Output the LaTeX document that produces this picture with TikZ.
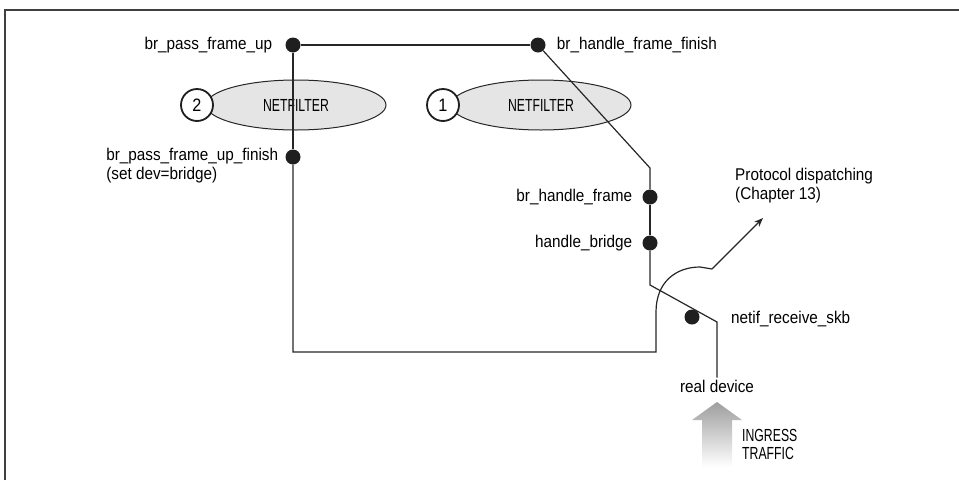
\documentclass[tikz,border=0pt]{standalone}
\usepackage{fontspec}
\setmainfont{Liberation Sans}[FakeStretch=0.9]
\newfontfamily\capsfont{Liberation Sans}[FakeStretch=0.7]
\usetikzlibrary{arrows.meta,positioning,shapes.geometric}

\begin{document}
\begin{tikzpicture}[
  x=1pt,y=-1pt,
  node distance=12pt,
  lbl/.style={inner sep=0pt,font=\fontsize{17pt}{19pt}\selectfont},
  capslbl/.style={inner sep=0pt,align=left,font=\capsfont\fontsize{17.5pt}{18pt}\selectfont},
  joint/.style={circle,fill=black!88,inner sep=0pt,minimum size=15pt},
  filterhook/.style={draw=black!85,line width=1pt,ellipse,fill=black!10,minimum width=180pt,minimum height=50pt,font=\capsfont\fontsize{17.5pt}{19pt}\selectfont},
  num/.style={draw=black!88,circle,line width=1.8pt,fill=white,minimum size=32pt,inner sep=0pt,font=\fontsize{18pt}{19pt}\selectfont},
  wire/.style={draw=black!85,line width=1.2pt}
]
  \useasboundingbox (0,0) rectangle (959,480);
  \draw[line width=1.6pt,black!75] (5,480) -- (5,10) -- (959,10);

  \node[filterhook] (nf2) at (296,105) {NETFILTER\hspace{8pt}};
  \node[num] (n2) at (197,105) {2};
  \node[filterhook] (nf1) at (541,105) {NETFILTER};
  \node[num] (n1) at (443,105) {1};

  \node[joint] (passup) at (293,45) {};
  \node[joint] (handlefinish) at (538,45) {};
  \node[joint] (passfinish) at (293,157) {};
  \node[joint] (handleframe) at (650,197) {};
  \node[joint] (handlebridge) at (650,243) {};
  \node[joint] (netif) at (692,317) {};

  \node[lbl,left=13pt of passup] (passuplbl) {br\_pass\_frame\_up};
  \node[lbl,right=11pt of handlefinish] (handlefinishlbl) {br\_handle\_frame\_finish};
  \node[lbl,align=left,left=7pt of passfinish,yshift=-9pt] (passfinishlbl) {br\_pass\_frame\_up\_finish\\(set dev=bridge)};
  \node[lbl,left=10pt of handleframe] (handleframelbl) {br\_handle\_frame};
  \node[lbl,left=10pt of handlebridge] (handlebridgelbl) {handle\_bridge};
  \node[lbl,anchor=west] (netiflbl) at (731,319) {netif\_receive\_skb};
  \node[lbl] (realdev) at (717,386) {real device};
  \node[lbl,align=left,anchor=west] (proto) at (735,186) {Protocol dispatching\\(Chapter 13)};
  \node[capslbl,anchor=west] (ingress) at (742,444) {INGRESS\\TRAFFIC};

  \coordinate (bend1) at (650,168);
  \coordinate (bend2) at (650,285);
  \coordinate (bend3) at (717,322);
  \coordinate (lowleft) at (293,352);
  \coordinate (lowright) at (656,352);
  \coordinate (curvebase) at (656,312);
  \coordinate (curvetop) at (700,267);
  \coordinate (kink) at (712,269);
  \coordinate (protoarr) at (763,218);

  \draw[wire] (passup) -- (handlefinish);
  \draw[wire] (passup) -- (passfinish);
  \draw[wire] (passfinish) -- (lowleft) -- (lowright) -- (curvebase)
    .. controls (656,282) and (676,267) .. (curvetop) -- (kink);
  \draw[wire,-{Stealth[length=9pt,width=7pt]}] (kink) -- (protoarr);
  \draw[wire] (handlefinish) -- (bend1) -- (handleframe);
  \draw[wire] (handleframe) -- (handlebridge);
  \draw[wire] (handlebridge) -- (bend2) -- (bend3) -- ([yshift=2pt]realdev.north);

  \shade[top color=black!38,bottom color=white]
    (702,467) -- (702,420) -- (692,420) -- (717,402) -- (742,420) -- (732,420) -- (732,467) -- cycle;
\end{tikzpicture}
\end{document}
